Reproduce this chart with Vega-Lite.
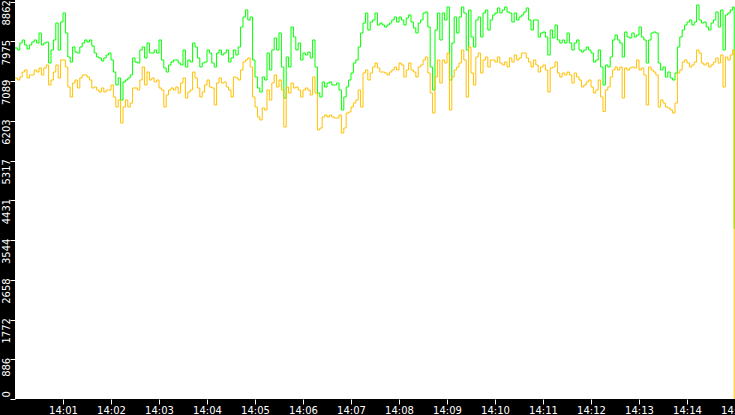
{
"$schema": "https://vega.github.io/schema/vega-lite/v6.json",
"width": 720,
"height": 399,
"autosize": {"type": "none"},
"padding": {"left": 15, "top": 0, "right": 0, "bottom": 16},
"background": "black",
"config": {"view": {"fill": "white", "stroke": null}},
"data": {"format": {"parse": {"t": "date:'%H:%M:%S'"}}, "values": [
{"t":"14:00:00","g":7828,"o":7159},{"t":"14:00:03","g":7783,"o":7114},{"t":"14:00:06","g":7939,"o":7181},{"t":"14:00:09","g":8006,"o":7292},{"t":"14:00:12","g":7895,"o":7337},
{"t":"14:00:15","g":7805,"o":7159},{"t":"14:00:18","g":7895,"o":7226},{"t":"14:00:21","g":7961,"o":7226},{"t":"14:00:24","g":8006,"o":7337},{"t":"14:00:27","g":7939,"o":7292},
{"t":"14:00:30","g":8162,"o":7382},{"t":"14:00:33","g":7895,"o":7226},{"t":"14:00:36","g":7939,"o":7382},{"t":"14:00:39","g":7961,"o":7449},{"t":"14:00:42","g":7493,"o":7003},
{"t":"14:00:45","g":7783,"o":7114},{"t":"14:00:48","g":8006,"o":7292},{"t":"14:00:51","g":8385,"o":7449},{"t":"14:00:54","g":7783,"o":7159},{"t":"14:00:57","g":8407,"o":7560},
{"t":"14:01:00","g":8608,"o":7560},{"t":"14:01:03","g":8162,"o":7404},{"t":"14:01:06","g":7627,"o":6958},{"t":"14:01:09","g":7515,"o":6735},{"t":"14:01:12","g":7850,"o":7047},
{"t":"14:01:15","g":7738,"o":7114},{"t":"14:01:18","g":7716,"o":6936},{"t":"14:01:21","g":7850,"o":7159},{"t":"14:01:24","g":7939,"o":7226},{"t":"14:01:27","g":8006,"o":7226},
{"t":"14:01:30","g":7961,"o":7181},{"t":"14:01:33","g":8006,"o":7114},{"t":"14:01:36","g":7872,"o":6936},{"t":"14:01:39","g":7716,"o":6958},{"t":"14:01:42","g":7627,"o":6891},
{"t":"14:01:45","g":7605,"o":6846},{"t":"14:01:48","g":7538,"o":6936},{"t":"14:01:51","g":7605,"o":6846},{"t":"14:01:54","g":7672,"o":6891},{"t":"14:01:57","g":7716,"o":6891},
{"t":"14:02:00","g":7560,"o":7003},{"t":"14:02:03","g":7292,"o":6735},{"t":"14:02:06","g":7003,"o":6512},{"t":"14:02:09","g":7159,"o":6668},{"t":"14:02:12","g":6668,"o":6155},
{"t":"14:02:15","g":7070,"o":6512},{"t":"14:02:18","g":7114,"o":6668},{"t":"14:02:21","g":7159,"o":6512},{"t":"14:02:24","g":7226,"o":6601},{"t":"14:02:27","g":7605,"o":6936},
{"t":"14:02:30","g":7515,"o":6936},{"t":"14:02:33","g":7493,"o":6891},{"t":"14:02:36","g":7783,"o":7114},{"t":"14:02:39","g":7850,"o":7404},{"t":"14:02:42","g":7605,"o":7003},
{"t":"14:02:45","g":7939,"o":7292},{"t":"14:02:48","g":7716,"o":7114},{"t":"14:02:51","g":7716,"o":7159},{"t":"14:02:54","g":7783,"o":7070},{"t":"14:02:57","g":7716,"o":7114},
{"t":"14:03:00","g":8006,"o":6936},{"t":"14:03:03","g":7560,"o":6891},{"t":"14:03:06","g":7382,"o":6512},{"t":"14:03:09","g":7292,"o":6780},{"t":"14:03:12","g":7449,"o":6891},
{"t":"14:03:15","g":7515,"o":6936},{"t":"14:03:18","g":7560,"o":6891},{"t":"14:03:21","g":7560,"o":6958},{"t":"14:03:24","g":7493,"o":6824},{"t":"14:03:27","g":7449,"o":7047},
{"t":"14:03:30","g":7783,"o":7159},{"t":"14:03:33","g":7404,"o":6713},{"t":"14:03:36","g":7560,"o":6846},{"t":"14:03:39","g":7515,"o":6891},{"t":"14:03:42","g":7939,"o":7292},
{"t":"14:03:45","g":7850,"o":7159},{"t":"14:03:48","g":7605,"o":6936},{"t":"14:03:51","g":7404,"o":6735},{"t":"14:03:54","g":7493,"o":6846},{"t":"14:03:57","g":7515,"o":7003},
{"t":"14:04:00","g":7783,"o":7114},{"t":"14:04:03","g":7716,"o":6958},{"t":"14:04:06","g":7493,"o":6936},{"t":"14:04:09","g":7404,"o":6557},{"t":"14:04:12","g":7716,"o":7047},
{"t":"14:04:15","g":7783,"o":7159},{"t":"14:04:18","g":7672,"o":7047},{"t":"14:04:21","g":7716,"o":7070},{"t":"14:04:24","g":7783,"o":6958},{"t":"14:04:27","g":7515,"o":6891},
{"t":"14:04:30","g":7605,"o":6735},{"t":"14:04:33","g":7783,"o":7181},{"t":"14:04:36","g":7672,"o":7159},{"t":"14:04:39","g":7850,"o":7114},{"t":"14:04:42","g":8296,"o":7337},
{"t":"14:04:45","g":8519,"o":7515},{"t":"14:04:48","g":8675,"o":7560},{"t":"14:04:51","g":8452,"o":7605},{"t":"14:04:54","g":8519,"o":7404},{"t":"14:04:57","g":7560,"o":6735},
{"t":"14:05:00","g":7181,"o":6512},{"t":"14:05:03","g":6936,"o":6289},{"t":"14:05:06","g":6846,"o":6222},{"t":"14:05:09","g":7181,"o":6490},{"t":"14:05:12","g":7114,"o":6445},
{"t":"14:05:15","g":7716,"o":6891},{"t":"14:05:18","g":7337,"o":6668},{"t":"14:05:21","g":7783,"o":7047},{"t":"14:05:24","g":8051,"o":7226},{"t":"14:05:27","g":7783,"o":6958},
{"t":"14:05:30","g":8162,"o":7114},{"t":"14:05:33","g":7404,"o":6891},{"t":"14:05:36","g":6713,"o":6066},{"t":"14:05:39","g":7627,"o":6958},{"t":"14:05:42","g":7404,"o":6824},
{"t":"14:05:45","g":8296,"o":7047},{"t":"14:05:48","g":8073,"o":6936},{"t":"14:05:51","g":7783,"o":6958},{"t":"14:05:54","g":7939,"o":6891},{"t":"14:05:57","g":7560,"o":6735},
{"t":"14:06:00","g":7716,"o":6891},{"t":"14:06:03","g":7672,"o":6936},{"t":"14:06:06","g":7738,"o":6891},{"t":"14:06:09","g":7605,"o":6780},{"t":"14:06:12","g":8006,"o":7181},
{"t":"14:06:15","g":7404,"o":6824},{"t":"14:06:18","g":6824,"o":5999},{"t":"14:06:21","g":6735,"o":6044},{"t":"14:06:24","g":7070,"o":6289},{"t":"14:06:27","g":6958,"o":6333},
{"t":"14:06:30","g":7047,"o":6289},{"t":"14:06:33","g":7070,"o":6333},{"t":"14:06:36","g":7003,"o":6289},{"t":"14:06:39","g":7003,"o":6267},{"t":"14:06:42","g":7047,"o":6267},
{"t":"14:06:45","g":6891,"o":6333},{"t":"14:06:48","g":6445,"o":5932},{"t":"14:06:51","g":6735,"o":6044},{"t":"14:06:54","g":6958,"o":6378},{"t":"14:06:57","g":7114,"o":6400},
{"t":"14:07:00","g":7270,"o":6512},{"t":"14:07:03","g":7493,"o":6601},{"t":"14:07:06","g":7560,"o":6668},{"t":"14:07:09","g":7850,"o":6891},{"t":"14:07:12","g":8162,"o":6512},
{"t":"14:07:15","g":8385,"o":7270},{"t":"14:07:18","g":8608,"o":7337},{"t":"14:07:21","g":8229,"o":7114},{"t":"14:07:24","g":8407,"o":7270},{"t":"14:07:27","g":8452,"o":7404},
{"t":"14:07:30","g":8608,"o":7493},{"t":"14:07:33","g":8340,"o":7382},{"t":"14:07:36","g":8385,"o":7292},{"t":"14:07:39","g":8340,"o":7292},{"t":"14:07:42","g":8296,"o":7270},
{"t":"14:07:45","g":8340,"o":7226},{"t":"14:07:48","g":8385,"o":7292},{"t":"14:07:51","g":8452,"o":7337},{"t":"14:07:54","g":8519,"o":7404},{"t":"14:07:57","g":8407,"o":7337},
{"t":"14:08:00","g":8519,"o":7493},{"t":"14:08:03","g":8452,"o":7449},{"t":"14:08:06","g":8340,"o":7181},{"t":"14:08:09","g":8497,"o":7337},{"t":"14:08:12","g":8564,"o":7493},
{"t":"14:08:15","g":8407,"o":7337},{"t":"14:08:18","g":8274,"o":7292},{"t":"14:08:21","g":8162,"o":7181},{"t":"14:08:24","g":8385,"o":7404},{"t":"14:08:27","g":8452,"o":7449},
{"t":"14:08:30","g":8608,"o":7560},{"t":"14:08:33","g":8630,"o":7627},{"t":"14:08:36","g":8296,"o":7270},{"t":"14:08:39","g":7404,"o":6824},{"t":"14:08:42","g":6891,"o":6378},
{"t":"14:08:45","g":8229,"o":7181},{"t":"14:08:48","g":8608,"o":7560},{"t":"14:08:51","g":8006,"o":7047},{"t":"14:08:54","g":8608,"o":7560},{"t":"14:08:57","g":8452,"o":7493},
{"t":"14:09:00","g":8742,"o":7716},{"t":"14:09:03","g":7114,"o":6445},{"t":"14:09:06","g":7939,"o":7181},{"t":"14:09:09","g":8519,"o":7337},{"t":"14:09:12","g":8162,"o":7404},
{"t":"14:09:15","g":8519,"o":7493},{"t":"14:09:18","g":8742,"o":7783},{"t":"14:09:21","g":8608,"o":7560},{"t":"14:09:24","g":7783,"o":6735},{"t":"14:09:27","g":8675,"o":7850},
{"t":"14:09:30","g":8073,"o":7270},{"t":"14:09:33","g":7850,"o":7003},{"t":"14:09:36","g":8452,"o":7627},{"t":"14:09:39","g":8519,"o":7716},{"t":"14:09:42","g":8073,"o":7270},
{"t":"14:09:45","g":8608,"o":7560},{"t":"14:09:48","g":8675,"o":7627},{"t":"14:09:51","g":8229,"o":7404},{"t":"14:09:54","g":8452,"o":7560},{"t":"14:09:57","g":8564,"o":7560},
{"t":"14:10:00","g":8608,"o":7515},{"t":"14:10:03","g":8720,"o":7627},{"t":"14:10:06","g":8608,"o":7493},{"t":"14:10:09","g":8675,"o":7449},{"t":"14:10:12","g":8742,"o":7515},
{"t":"14:10:15","g":8630,"o":7404},{"t":"14:10:18","g":8608,"o":7605},{"t":"14:10:21","g":8407,"o":7515},{"t":"14:10:24","g":8608,"o":7672},{"t":"14:10:27","g":8452,"o":7560},
{"t":"14:10:30","g":8519,"o":7605},{"t":"14:10:33","g":8564,"o":7716},{"t":"14:10:36","g":8630,"o":7716},{"t":"14:10:39","g":8720,"o":7605},{"t":"14:10:42","g":8452,"o":7515},
{"t":"14:10:45","g":8229,"o":7404},{"t":"14:10:48","g":8452,"o":7560},{"t":"14:10:51","g":8452,"o":7449},{"t":"14:10:54","g":8073,"o":7292},{"t":"14:10:57","g":8162,"o":7404},
{"t":"14:11:00","g":8184,"o":7449},{"t":"14:11:03","g":8073,"o":7337},{"t":"14:11:06","g":7672,"o":6846},{"t":"14:11:09","g":8229,"o":7382},{"t":"14:11:12","g":8051,"o":7404},
{"t":"14:11:15","g":8340,"o":7515},{"t":"14:11:18","g":8006,"o":7270},{"t":"14:11:21","g":7939,"o":7181},{"t":"14:11:24","g":8006,"o":7270},{"t":"14:11:27","g":7939,"o":7226},
{"t":"14:11:30","g":8162,"o":7292},{"t":"14:11:33","g":7939,"o":7226},{"t":"14:11:36","g":7783,"o":7047},{"t":"14:11:39","g":7939,"o":7270},{"t":"14:11:42","g":8006,"o":7181},
{"t":"14:11:45","g":7783,"o":7114},{"t":"14:11:48","g":7738,"o":6958},{"t":"14:11:51","g":7783,"o":7003},{"t":"14:11:54","g":7850,"o":7070},{"t":"14:11:57","g":7783,"o":7114},
{"t":"14:12:00","g":7716,"o":6958},{"t":"14:12:03","g":7515,"o":6824},{"t":"14:12:06","g":7560,"o":6891},{"t":"14:12:09","g":7783,"o":7114},{"t":"14:12:12","g":7404,"o":6735},
{"t":"14:12:15","g":7003,"o":6410},{"t":"14:12:18","g":7449,"o":6891},{"t":"14:12:21","g":7404,"o":6958},{"t":"14:12:24","g":7627,"o":7181},{"t":"14:12:27","g":8006,"o":7337},
{"t":"14:12:30","g":8118,"o":7404},{"t":"14:12:33","g":8006,"o":7337},{"t":"14:12:36","g":7939,"o":7404},{"t":"14:12:39","g":7627,"o":6713},{"t":"14:12:42","g":8184,"o":7382},
{"t":"14:12:45","g":8073,"o":7337},{"t":"14:12:48","g":8051,"o":7382},{"t":"14:12:51","g":8162,"o":7404},{"t":"14:12:54","g":8073,"o":7382},{"t":"14:12:57","g":8118,"o":7560},
{"t":"14:13:00","g":8296,"o":7337},{"t":"14:13:03","g":8073,"o":7382},{"t":"14:13:06","g":8006,"o":7226},{"t":"14:13:09","g":7493,"o":6557},{"t":"14:13:12","g":8006,"o":7404},
{"t":"14:13:15","g":8162,"o":7337},{"t":"14:13:18","g":8184,"o":7292},{"t":"14:13:21","g":8162,"o":7226},{"t":"14:13:24","g":7493,"o":6512},{"t":"14:13:27","g":7337,"o":6668},
{"t":"14:13:30","g":7404,"o":6601},{"t":"14:13:33","g":7181,"o":6512},{"t":"14:13:36","g":7292,"o":6490},{"t":"14:13:39","g":7159,"o":6445},{"t":"14:13:42","g":7114,"o":6378},
{"t":"14:13:45","g":7270,"o":6601},{"t":"14:13:48","g":7850,"o":7270},{"t":"14:13:51","g":8073,"o":7337},{"t":"14:13:54","g":8229,"o":7515},{"t":"14:13:57","g":8340,"o":7560},
{"t":"14:14:00","g":8407,"o":7493},{"t":"14:14:03","g":8452,"o":7404},{"t":"14:14:06","g":8340,"o":7449},{"t":"14:14:09","g":8407,"o":7515},{"t":"14:14:12","g":8787,"o":7783},
{"t":"14:14:15","g":8452,"o":7716},{"t":"14:14:18","g":8385,"o":7493},{"t":"14:14:21","g":8407,"o":7449},{"t":"14:14:24","g":8296,"o":7493},{"t":"14:14:27","g":8229,"o":7404},
{"t":"14:14:30","g":8385,"o":7449},{"t":"14:14:33","g":8452,"o":7515},{"t":"14:14:36","g":8630,"o":7605},{"t":"14:14:39","g":8296,"o":7493},{"t":"14:14:42","g":8675,"o":7672},
{"t":"14:14:45","g":7783,"o":6958},{"t":"14:14:48","g":8564,"o":7627},{"t":"14:14:51","g":8608,"o":7560},{"t":"14:14:54","g":8675,"o":7672},{"t":"14:14:57","g":8742,"o":7783},
{"t":"14:14:59","g":3791,"o":0}
]},
"transform": [{"fold": ["g", "o"], "as": ["s", "v"]}],
"mark": {"type": "line", "strokeWidth": 1, "interpolate": "step-after", "clip": true},
"encoding": {
  "x": {"field": "t", "type": "temporal",
    "scale": {"type": "time", "domain": [{"year":1900,"month":1,"date":1,"hours":14,"minutes":0},{"year":1900,"month":1,"date":1,"hours":14,"minutes":15}]},
    "axis": {"title": null, "format": "%H:%M", "formatType": "time",
      "values": [
        {"year":1900,"month":1,"date":1,"hours":14,"minutes":1},
        {"year":1900,"month":1,"date":1,"hours":14,"minutes":2},
        {"year":1900,"month":1,"date":1,"hours":14,"minutes":3},
        {"year":1900,"month":1,"date":1,"hours":14,"minutes":4},
        {"year":1900,"month":1,"date":1,"hours":14,"minutes":5},
        {"year":1900,"month":1,"date":1,"hours":14,"minutes":6},
        {"year":1900,"month":1,"date":1,"hours":14,"minutes":7},
        {"year":1900,"month":1,"date":1,"hours":14,"minutes":8},
        {"year":1900,"month":1,"date":1,"hours":14,"minutes":9},
        {"year":1900,"month":1,"date":1,"hours":14,"minutes":10},
        {"year":1900,"month":1,"date":1,"hours":14,"minutes":11},
        {"year":1900,"month":1,"date":1,"hours":14,"minutes":12},
        {"year":1900,"month":1,"date":1,"hours":14,"minutes":13},
        {"year":1900,"month":1,"date":1,"hours":14,"minutes":14},
        {"year":1900,"month":1,"date":1,"hours":14,"minutes":15}
      ],
      "domain": false, "grid": false, "tickColor": "white", "tickSize": 5, "tickWidth": 1,
      "labelColor": "white", "labelFont": "DejaVu Sans", "labelFontSize": 10, "labelPadding": 1,
      "labelBaseline": "top", "labelFlush": false, "labelOverlap": false, "labelBound": false}
  },
  "y": {"field": "v", "type": "quantitative",
    "scale": {"domain": [0, 8898], "nice": false, "zero": true},
    "axis": {"title": null, "values": [0,886,1772,2658,3544,4431,5317,6203,7089,7975,8862], "format": "d",
      "labelAngle": 270,
      "labelAlign": {"condition": {"test": "datum.value == 0", "value": "left"}, "value": "right"},
      "labelBaseline": "alphabetic", "labelPadding": 1, "labelOffset": -2,
      "domain": false, "grid": false, "tickColor": "white", "tickSize": 5, "tickWidth": 1,
      "labelColor": "white", "labelFont": "DejaVu Sans", "labelFontSize": 10,
      "labelFlush": false, "labelOverlap": false, "labelBound": false}},
  "color": {"field": "s", "type": "nominal", "legend": null,
    "scale": {"domain": ["g", "o"], "range": ["#00FF00", "#FFC000"]}}
}
}
